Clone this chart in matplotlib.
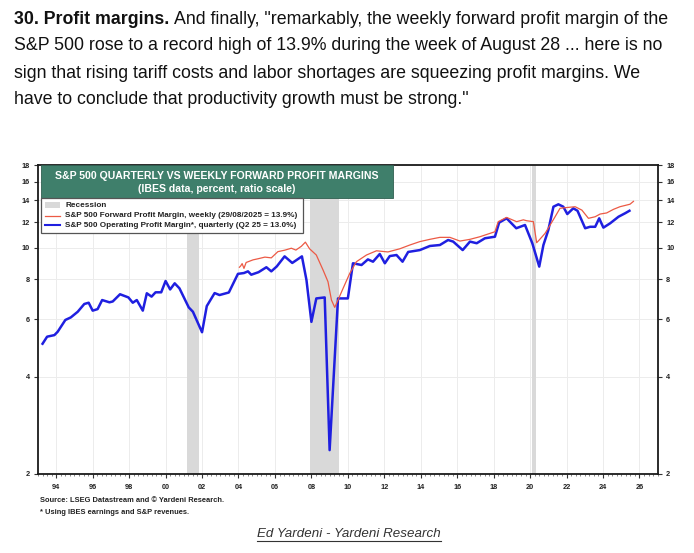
import matplotlib
matplotlib.use("Agg")
import matplotlib.pyplot as plt
from matplotlib.patches import Rectangle
from matplotlib.lines import Line2D
from matplotlib.ticker import FixedLocator, NullFormatter, NullLocator

# ---------------- data ----------------
blue_x = [1993.25, 1993.5, 1993.9, 1994.08, 1994.5, 1994.8, 1995.18, 1995.54, 1995.78,
          1996.0, 1996.27, 1996.52, 1996.92, 1997.1, 1997.5, 1997.96, 1998.2, 1998.42,
          1998.75, 1998.97, 1999.23, 1999.45, 1999.76, 2000.0, 2000.25, 2000.5, 2000.76,
          2001.27, 2001.5, 2002.0, 2002.26, 2002.69, 2002.96, 2003.47, 2003.97, 2004.3,
          2004.52, 2004.7, 2005.1, 2005.53, 2005.8, 2006.1, 2006.53, 2006.95, 2007.48,
          2007.73, 2008.0, 2008.27, 2008.73, 2009.0, 2009.46, 2010.0, 2010.28, 2010.75,
          2011.1, 2011.38, 2011.75, 2012.03, 2012.3, 2012.67, 2013.0, 2013.31, 2013.95,
          2014.5, 2015.05, 2015.5, 2015.78, 2016.3, 2016.7, 2017.07, 2017.52, 2018.07,
          2018.3, 2018.71, 2019.24, 2019.72, 2020.12, 2020.5, 2020.73, 2021.0, 2021.28,
          2021.55, 2021.82, 2022.04, 2022.37, 2022.6, 2023.02, 2023.29, 2023.57, 2023.79,
          2024.02, 2024.39, 2024.85, 2025.21, 2025.45]
blue_y = [5.05, 5.31, 5.37, 5.50, 5.98, 6.09, 6.34, 6.70, 6.76,
          6.39, 6.46, 6.89, 6.78, 6.82, 7.18, 7.02, 6.76, 6.89,
          6.39, 7.23, 7.06, 7.28, 7.28, 7.89, 7.43, 7.76, 7.49,
          6.54, 6.34, 5.48, 6.60, 7.24, 7.14, 7.27, 8.30, 8.35,
          8.45, 8.25, 8.40, 8.70, 8.45, 8.75, 9.40, 8.97, 9.40,
          7.94, 5.90, 6.97, 7.02, 2.37, 6.97, 6.97, 8.95, 8.84,
          9.20, 9.05, 9.56, 8.95, 9.42, 9.49, 9.05, 9.70, 9.83,
          10.12, 10.19, 10.56, 10.44, 9.83, 10.44, 10.32, 10.69, 10.81,
          11.95, 12.32, 11.48, 11.75, 10.32, 8.74, 10.19, 11.34, 13.38,
          13.61, 13.38, 12.70, 13.23, 13.0, 11.48, 11.6, 11.6, 12.32,
          11.53, 11.89, 12.46, 12.77, 13.0]

red_x = [2004.05, 2004.12, 2004.2, 2004.3, 2004.42, 2004.8, 2005.07, 2005.45, 2005.8,
         2006.16, 2006.53, 2006.9, 2007.15, 2007.45, 2007.67, 2007.9, 2008.27, 2008.64,
         2008.91, 2009.1, 2009.28, 2009.46, 2009.74, 2010.1, 2010.47, 2011.02, 2011.57,
         2012.2, 2012.85, 2013.4, 2013.95, 2014.5, 2015.05, 2015.6, 2016.15, 2016.7,
         2017.25, 2017.8, 2018.07, 2018.25, 2018.71, 2019.26, 2019.63, 2019.81, 2020.18,
         2020.36, 2020.5, 2020.82, 2021.1, 2021.37, 2021.64, 2022.0, 2022.47, 2022.84,
         2023.2, 2023.57, 2023.84, 2024.2, 2024.57, 2024.93, 2025.3, 2025.48, 2025.67]
red_y = [8.70, 8.78, 8.93, 8.63, 9.0, 9.17, 9.24, 9.35, 9.30,
         9.72, 9.82, 9.96, 9.83, 10.1, 10.4, 9.92, 9.49, 8.53,
         7.85, 6.89, 6.54, 6.89, 7.49, 8.32, 9.05, 9.49, 9.78,
         9.70, 9.92, 10.19, 10.44, 10.61, 10.76, 10.76, 10.48, 10.61,
         10.81, 11.07, 11.2, 12.03, 12.4, 12.03, 12.19, 12.11, 12.03,
         10.36, 10.56, 11.07, 11.75, 12.46, 13.23, 13.3, 13.38, 13.06,
         12.32, 12.46, 12.70, 12.8, 13.13, 13.38, 13.54, 13.62, 13.9]

recession_start = [2001.17, 2007.92, 2020.08]
recession_end = [2001.83, 2009.5, 2020.33]

x_tick_years = list(range(1994, 2027, 2))
x_tick_labels = [f"{y % 100:02d}" for y in x_tick_years]
y_ticks = [2, 4, 6, 8, 10, 12, 14, 16, 18]

title_line1 = "S&P 500 QUARTERLY VS WEEKLY FORWARD PROFIT MARGINS"
title_line2 = "(IBES data, percent, ratio scale)"
legend_labels = ["Recession",
                 "S&P 500 Forward Profit Margin, weekly (29/08/2025 = 13.9%)",
                 "S&P 500 Operating Profit Margin*, quarterly (Q2 25 = 13.0%)"]

header_lines = [
    ("30. Profit margins.", "And finally, \"remarkably, the weekly forward profit margin of the"),
    ("", "S&P 500 rose to a record high of 13.9% during the week of August 28 ... here is no"),
    ("", "sign that rising tariff costs and labor shortages are squeezing profit margins. We"),
    ("", "have to conclude that productivity growth must be strong.\""),
]

# ---------------- figure ----------------
W, H = 694, 553
fig = plt.figure(figsize=(W / 100, H / 100), dpi=100)
fig.patch.set_facecolor("white")

L, R, T, B = 38, 657.7, 165, 474
ax = fig.add_axes([L / W, 1 - B / H, (R - L) / W, (B - T) / H])
ax.set_yscale("log")
ax.set_ylim(2, 18)
ax.set_xlim(1993.0, 2027.0)

BLUE = "#1f1fe0"
RED = "#ec5a45"
GREEN = "#3f7f6b"

for s, e in zip(recession_start, recession_end):
    ax.axvspan(s, e, color="#d9d9d9", lw=0, zorder=1)

ax.plot(blue_x, blue_y, color=BLUE, lw=1.8, zorder=3, solid_joinstyle="round")
ax.plot(red_x, red_y, color=RED, lw=0.9, zorder=4)

# grid
for yv in y_ticks:
    ax.axhline(yv, color="#ececec", lw=0.7, zorder=0)
for xv in x_tick_years:
    ax.axvline(xv, color="#ececec", lw=0.7, zorder=0)

# ticks
ax.yaxis.set_major_locator(FixedLocator(y_ticks))
ax.yaxis.set_minor_locator(NullLocator())
ax.yaxis.set_minor_formatter(NullFormatter())
ax.set_yticklabels([str(v) for v in y_ticks])
ax.tick_params(axis="y", which="major", left=True, right=True, labelleft=True,
               labelright=True, length=3, width=0.8, pad=3,
               labelsize=5.3, labelcolor="#222222", color="#333333")
ax.set_xticks(x_tick_years)
ax.set_xticklabels(x_tick_labels)
ax.xaxis.set_minor_locator(FixedLocator([1993 + q * 0.25 for q in range(0, 137)]))
ax.tick_params(axis="x", which="major", length=3, width=0.8, pad=4,
               labelsize=5.3, labelcolor="#222222", color="#333333")
ax.tick_params(axis="x", which="minor", length=1.5, width=0.5, color="#555555")
for lab in ax.get_xticklabels() + ax.get_yticklabels():
    lab.set_fontweight("bold")
    lab.set_fontfamily("Liberation Sans")

for sp in ax.spines.values():
    sp.set_linewidth(1.3)
    sp.set_color("#1a1a1a")

# title box
tb_x0, tb_x1, tb_y0, tb_y1 = 0.0044, 0.5724, 0.894, 1.0
ax.add_patch(Rectangle((tb_x0, tb_y0), tb_x1 - tb_x0, tb_y1 - tb_y0, transform=ax.transAxes,
                       facecolor=GREEN, edgecolor="#2f5f50", lw=0.6, zorder=6))
cx = (tb_x0 + tb_x1) / 2
ax.text(cx, 0.966, title_line1, transform=ax.transAxes, ha="center", va="center",
        color="white", fontsize=7.6, fontweight="bold", family="Liberation Sans", zorder=7)
ax.text(cx, 0.922, title_line2, transform=ax.transAxes, ha="center", va="center",
        color="white", fontsize=7.6, fontweight="bold", family="Liberation Sans", zorder=7)

# legend box
lg_x0, lg_x1, lg_y0, lg_y1 = 0.0044, 0.427, 0.779, 0.894
ax.add_patch(Rectangle((lg_x0, lg_y0), lg_x1 - lg_x0, lg_y1 - lg_y0, transform=ax.transAxes,
                       facecolor="white", edgecolor="#555555", lw=0.9, zorder=6))
row_y = [0.870, 0.835, 0.805]
sx0, sx1 = 0.011, 0.036
ax.add_patch(Rectangle((sx0, row_y[0] - 0.009), sx1 - sx0, 0.018, transform=ax.transAxes,
                       facecolor="#d9d9d9", edgecolor="none", zorder=7))
ax.add_line(Line2D([sx0, sx1], [row_y[1], row_y[1]], transform=ax.transAxes, color=RED,
                   lw=0.9, zorder=7))
ax.add_line(Line2D([sx0, sx1], [row_y[2], row_y[2]], transform=ax.transAxes, color=BLUE,
                   lw=1.5, zorder=7))
for yy, lab in zip(row_y, legend_labels):
    ax.text(0.044, yy, lab, transform=ax.transAxes, ha="left", va="center", fontsize=5.9,
            fontweight="bold", color="#222222", family="Liberation Sans", zorder=7)

# source notes
fig.text(40 / W, 1 - 500 / H, "Source: LSEG Datastream and \u00a9 Yardeni Research.",
         fontsize=5.4, fontweight="bold", color="#222222", family="Liberation Sans",
         ha="left", va="center")
fig.text(40 / W, 1 - 512 / H, "* Using IBES earnings and S&P revenues.",
         fontsize=5.4, fontweight="bold", color="#222222", family="Liberation Sans",
         ha="left", va="center")

# header text
HFS = 12.8
line_y = [19, 46, 73, 100]
fig.canvas.draw()
renderer = fig.canvas.get_renderer()
for (bold, rest), yy in zip(header_lines, line_y):
    xpix = 14
    if bold:
        tb = fig.text(xpix / W, 1 - yy / H, bold, fontsize=HFS, fontweight="bold",
                      family="Liberation Sans", color="#111111", ha="left", va="center")
        bb = tb.get_window_extent(renderer)
        xpix = bb.x1 + 4.5
    fig.text(xpix / W, 1 - yy / H, rest, fontsize=HFS, family="Liberation Sans",
             color="#111111", ha="left", va="center")

# footer
ft = fig.text(349 / W, 1 - 534 / H, "Ed Yardeni - Yardeni Research", fontsize=9.6,
              style="italic", family="Liberation Sans", color="#333333",
              ha="center", va="center")
fig.canvas.draw()
fb = ft.get_window_extent(fig.canvas.get_renderer())
uy = fb.y0 - 0.5
fig.add_artist(Line2D([fb.x0 / W, fb.x1 / W], [uy / H, uy / H], transform=fig.transFigure,
                      color="#333333", lw=0.8))

fig.savefig("out.png", dpi=100, facecolor="white")
